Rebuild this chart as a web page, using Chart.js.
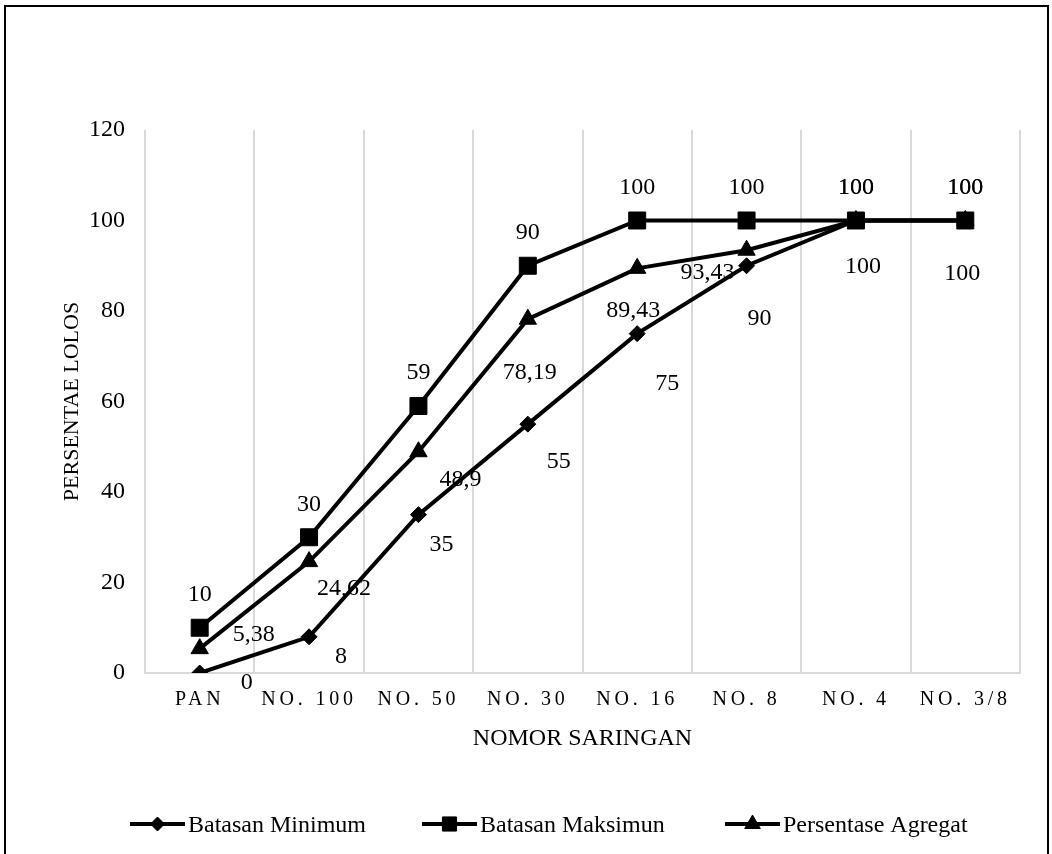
<!DOCTYPE html>
<html>
<head>
<meta charset="utf-8">
<script src="https://cdn.jsdelivr.net/npm/chart.js@4"></script>
<style>
  html, body { margin: 0; padding: 0; background: #fff; }
  #wrap { width: 1052px; height: 854px; }
</style>
</head>
<body>
<div id="wrap"><canvas id="chart-1"></canvas></div>
<script>
// data
var labels_saringan = ["PAN", "NO. 100", "NO. 50", "NO. 30", "NO. 16", "NO. 8", "NO. 4", "NO. 3/8"];
var batasan_min = [0, 8, 35, 55, 75, 90, 100, 100];
var batasan_maks = [10, 30, 59, 90, 100, 100, 100, 100];
var persen_agregat = [5.38, 24.62, 48.9, 78.19, 89.43, 93.43, 100, 100];
var y_ticks = [0, 20, 40, 60, 80, 100, 120];

var FONT = "'Liberation Serif', 'Times New Roman', serif";

// where each value label sits relative to its point (px), like the hand moved labels
var label_offsets = [
  [[47, 10], [32, 20], [23, 30], [31, 38], [30, 50], [13, 53], [7, 46], [-3, 53]],
  [[0, -33], [0, -33], [0, -33], [0, -33], [0, -33], [0, -33], [0, -33], [0, -33]],
  [[54, -14], [35, 27], [42, 28], [2, 54], [-4, 42], [-39, 22], [0, -33], [0, -33]]
];

function fmt(v) {
  return String(v).replace(".", ",");
}

var labelPlugin = {
  id: "labelPlugin",
  beforeDraw: function (chart) {
    var ctx = chart.ctx;
    ctx.save();
    ctx.strokeStyle = "#000";
    ctx.lineWidth = 2;
    ctx.strokeRect(5, 6, 1043, 860);
    ctx.restore();
  },
  afterDraw: function (chart) {
    var ctx = chart.ctx;
    var xs = chart.scales.x;
    var area = chart.chartArea;

    // x tick labels, spaced out
    ctx.save();
    ctx.font = "20px " + FONT;
    ctx.fillStyle = "#000";
    ctx.textAlign = "center";
    ctx.textBaseline = "middle";
    ctx.letterSpacing = "3.8px";
    for (let i = 0; i < labels_saringan.length; i++) {
      ctx.fillText(labels_saringan[i], xs.getPixelForValue(i), area.bottom + 27);
    }
    ctx.restore();

    // value labels
    ctx.save();
    ctx.font = "24px " + FONT;
    ctx.fillStyle = "#000";
    ctx.textAlign = "center";
    ctx.textBaseline = "middle";
    chart.data.datasets.forEach(function (ds, d) {
      var meta = chart.getDatasetMeta(d);
      meta.data.forEach(function (pt, i) {
        var off = label_offsets[d][i];
        ctx.fillText(fmt(ds.data[i]), pt.x + off[0], pt.y + off[1]);
      });
    });
    ctx.restore();

    // legend
    var legend_x = [130, 422, 725];
    var legend_y = 824;
    ctx.save();
    chart.data.datasets.forEach(function (ds, d) {
      var x0 = legend_x[d];
      ctx.strokeStyle = "#000";
      ctx.lineWidth = 4;
      ctx.beginPath();
      ctx.moveTo(x0, legend_y);
      ctx.lineTo(x0 + 55, legend_y);
      ctx.stroke();
      ctx.fillStyle = "#000";
      ctx.lineWidth = 1;
      Chart.helpers.drawPoint(ctx, {
        pointStyle: ds.pointStyle,
        radius: ds.legendRadius,
        rotation: 0,
        borderWidth: 1
      }, x0 + 27.5, legend_y);
      ctx.font = "24px " + FONT;
      ctx.textAlign = "left";
      ctx.textBaseline = "middle";
      ctx.fillText(ds.label, x0 + 58, legend_y + 2);
    });
    ctx.restore();
  }
};

const ctx = document.getElementById("chart-1").getContext("2d");
const myChart = new Chart(ctx, {
  type: "line",
  data: {
    labels: labels_saringan,
    datasets: [
      {
        label: "Batasan Minimum",
        data: batasan_min,
        borderColor: "#000",
        backgroundColor: "#000",
        borderWidth: 4,
        pointStyle: "rectRot",
        pointRadius: 8,
        pointBorderWidth: 1,
        legendRadius: 7,
        order: 2,
      },
      {
        label: "Batasan Maksimun",
        data: batasan_maks,
        borderColor: "#000",
        backgroundColor: "#000",
        borderWidth: 4,
        pointStyle: "rect",
        pointRadius: 12,
        pointBorderWidth: 1,
        legendRadius: 10,
        order: 0,
      },
      {
        label: "Persentase Agregat",
        data: persen_agregat,
        borderColor: "#000",
        backgroundColor: "#000",
        borderWidth: 4,
        pointStyle: "triangle",
        pointRadius: 10,
        pointBorderWidth: 1,
        legendRadius: 9,
        order: 1,
      },
    ],
  },
  options: {
    responsive: true,
    maintainAspectRatio: false,
    animation: false,
    layout: {
      padding: { left: 59, top: 130, right: 32, bottom: 101 },
    },
    plugins: {
      legend: { display: false },
      tooltip: { enabled: false },
    },
    scales: {
      x: {
        offset: true,
        grid: { display: true, color: "#d9d9d9", lineWidth: 2, drawTicks: false, offset: true },
        border: { display: true, color: "#d9d9d9", width: 2 },
        ticks: { display: false },
        title: {
          display: true,
          text: "NOMOR SARINGAN",
          color: "#000",
          font: { family: FONT, size: 24 },
          padding: 0,
        },
        afterFit: function (scale) {
          scale.height = 80;
        },
      },
      y: {
        min: 0,
        max: 120,
        afterBuildTicks: function (scale) {
          scale.ticks = y_ticks.map(function (v) { return { value: v }; });
        },
        grid: { display: false, drawTicks: false },
        border: { display: false },
        ticks: {
          color: "#000",
          font: { family: FONT, size: 24 },
          padding: 20,
        },
        title: {
          display: true,
          text: "PERSENTAE LOLOS",
          color: "#000",
          font: { family: FONT, size: 22 },
          padding: 0,
        },
        afterFit: function (scale) {
          scale.width = 86;
        },
      },
    },
  },
  plugins: [labelPlugin],
});
</script>
</body>
</html>
